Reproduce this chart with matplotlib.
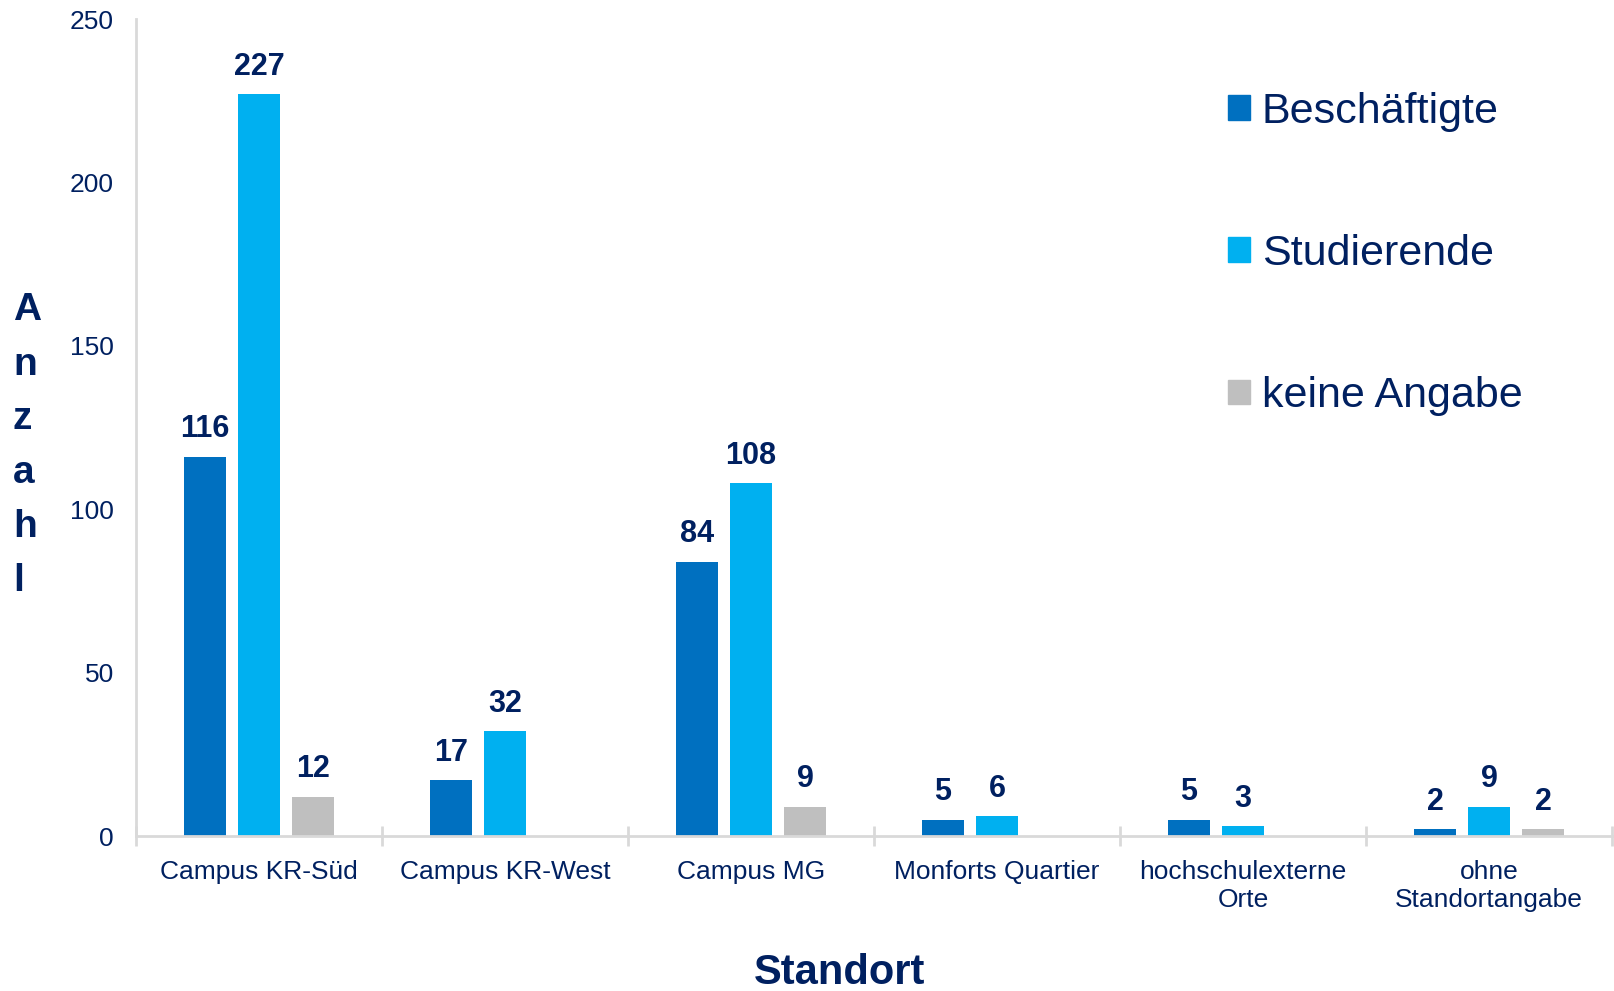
import matplotlib
matplotlib.use("Agg")
import matplotlib.pyplot as plt
from matplotlib.patches import Patch
import numpy as np

# data
standorte = ["Campus KR-Süd", "Campus KR-West", "Campus MG", "Monforts Quartier",
             "hochschulexterne\nOrte", "ohne\nStandortangabe"]
beschaeftigte = [116, 17, 84, 5, 5, 2]
studierende = [227, 32, 108, 6, 3, 9]
keine_angabe = [12, 0, 9, 0, 0, 2]
serien = ["Beschäftigte", "Studierende", "keine Angabe"]
farben = ["#0070C0", "#00B0F0", "#BFBFBF"]

navy = "#002060"
grau = "#D9D9D9"

plt.rcParams['font.family'] = ['Liberation Sans', 'DejaVu Sans']

fig = plt.figure(figsize=(16.14, 9.91), dpi=100)
ax = fig.add_axes([0.0843, 0.1564, 0.9145, 0.8244])

x = np.arange(len(standorte))
w = 0.171
step = 0.22
werte = [beschaeftigte, studierende, keine_angabe]
for i in range(3):
    bars = ax.bar(x + (i - 1) * step, werte[i], width=w, color=farben[i], label=serien[i])
    labels = [str(v) if v > 0 else "" for v in werte[i]]
    ax.bar_label(bars, labels=labels, padding=9, fontsize=22, fontweight='bold', color=navy)

ax.set_xlim(-0.5, len(standorte) - 0.5)
ax.set_ylim(0, 250)
ax.set_yticks([0, 50, 100, 150, 200, 250])
ax.set_xticks(x)
ax.set_xticklabels(standorte, fontsize=19, color=navy, linespacing=1.25)
ax.set_xticks(np.arange(-0.5, len(standorte)), minor=True)
ax.tick_params(axis='x', which='major', length=0, pad=17)
ax.tick_params(axis='x', which='minor', length=14, width=2, direction='inout', color=grau)
ax.tick_params(axis='y', length=0, pad=16, labelsize=19, labelcolor=navy)

for s in ["top", "right"]:
    ax.spines[s].set_visible(False)
for s in ["left", "bottom"]:
    ax.spines[s].set_color(grau)
    ax.spines[s].set_linewidth(2)

handles = [Patch(color=farben[i], label=serien[i]) for i in range(3)]
fig.legend(handles=handles, loc='upper left', bbox_to_anchor=(1228 / 1614, 1 - 92 / 991),
           frameon=False, fontsize=31, labelcolor=navy, labelspacing=2.37,
           handlelength=0.5, handleheight=0.5, handletextpad=0.28,
           borderpad=0, borderaxespad=0)

fig.text(0.008, 0.550, "A\nn\nz\na\nh\nl", fontsize=28, fontweight='bold', color=navy,
         ha='left', va='center', multialignment='left', linespacing=1.65)
fig.text(0.52, -0.002, "Standort", fontsize=30, fontweight='bold', color=navy,
         ha='center', va='bottom')

fig.savefig("out.png", dpi=100)
